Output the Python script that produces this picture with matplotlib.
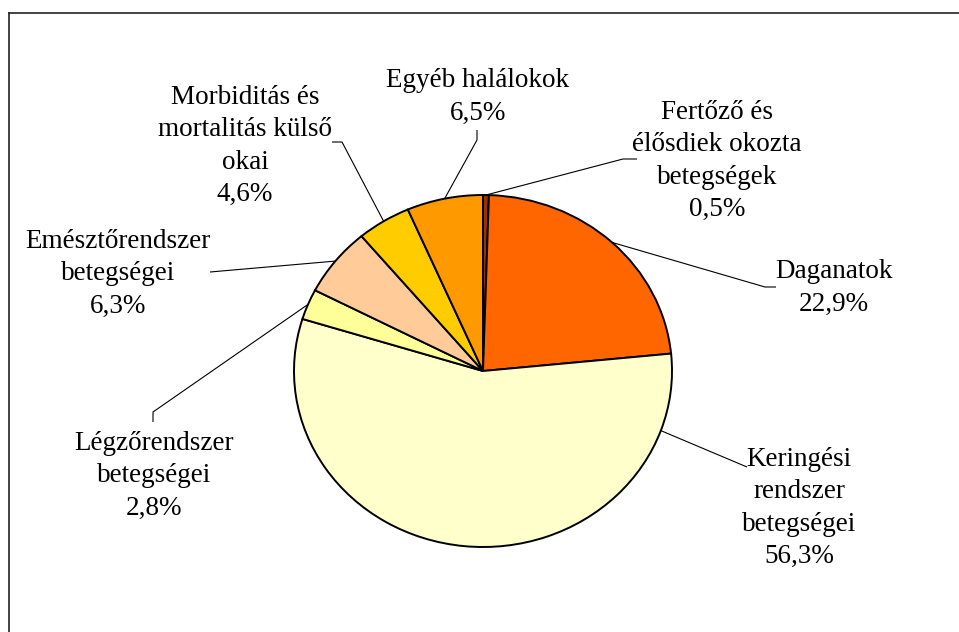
import numpy as np
import matplotlib
matplotlib.use("Agg")
import matplotlib.pyplot as plt
from matplotlib.lines import Line2D

# ---- data ----
categories = [
    "Fertőző és\nélősdiek okozta\nbetegségek",
    "Daganatok",
    "Keringési\nrendszer\nbetegségei",
    "Légzőrendszer\nbetegségei",
    "Emésztőrendszer\nbetegségei",
    "Morbiditás és\nmortalitás külső\nokai",
    "Egyéb halálokok",
]
values = [0.5, 22.9, 56.3, 2.8, 6.3, 4.6, 6.5]
colors = ["#993300", "#FF6600", "#FFFFCC", "#FFFF99", "#FFCC99", "#FFCC00", "#FF9900"]

# ---- layout (pixel positions of label block centres and leader elbows) ----
W, H = 959, 632
CX, CY = 483, 371          # pie centre in pixels (from top)
RX, RY = 189, 176          # pie radii in pixels
label_pos = [(717, 161), (834, 288), (799, 508), (154, 476), (118, 274), (245, 146), (478, 97)]
leader_pts = [
    [(623, 159), (637, 159)],
    [(765, 287), (776, 287)],
    [(747, 467)],
    [(153, 412), (153, 422)],
    [(210, 272)],
    [(342, 142), (332, 142)],
    [(477, 140), (477, 130)],
]
# leader anchor on the pie rim (fraction clockwise from top); None -> slice middle
anchor_frac = [None, None, 0.305, None, None, None, None]

def P(px, py):
    return ((px - CX) / RX, (CY - py) / RY)

fig = plt.figure(figsize=(W / 100, H / 100), dpi=100)
ax = fig.add_axes([0, 0, 1, 1])
wedges, _ = ax.pie(values, colors=colors, startangle=90, counterclock=False,
                   wedgeprops=dict(edgecolor="black", linewidth=1.4))
ax.set_aspect("auto")
ax.set_xlim(-CX / RX, (W - CX) / RX)
ax.set_ylim(-(H - CY) / RY, CY / RY)
ax.axis("off")

total = sum(values)
cum = 0.0
for i, (cat, v) in enumerate(zip(categories, values)):
    mid = (cum + v / 2) / total
    cum += v
    frac = anchor_frac[i] if anchor_frac[i] is not None else mid
    ang = np.deg2rad(90 - 360 * frac)
    sx, sy = np.cos(ang), np.sin(ang)
    pts = [(sx, sy)] + [P(*p) for p in leader_pts[i]]
    xs, ys = zip(*pts)
    ax.plot(xs, ys, color="black", lw=0.8, solid_capstyle="butt")
    pct = f"{v:.1f}".replace(".", ",") + "%"
    lx, ly = P(*label_pos[i])
    ax.text(lx, ly, cat + "\n" + pct, ha="center", va="center",
            fontsize=19.5, family="Liberation Serif", linespacing=1.37, color="black")

# outer frame (right/bottom edges lie beyond the image)
fig.add_artist(Line2D([8.5 / W, 8.5 / W], [-0.1, 1 - 12.5 / H], transform=fig.transFigure,
                      color="#222222", lw=1.2))
fig.add_artist(Line2D([8.5 / W, 1.1], [1 - 12.5 / H, 1 - 12.5 / H], transform=fig.transFigure,
                      color="#222222", lw=1.2))

fig.savefig("out.png", dpi=100)
